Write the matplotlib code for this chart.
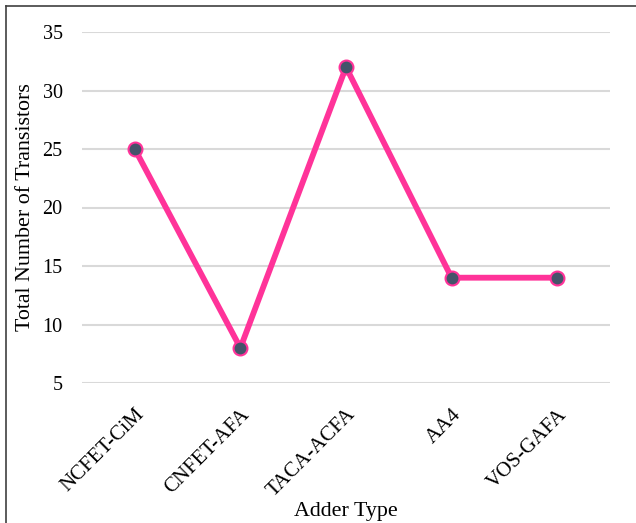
import matplotlib
matplotlib.use('Agg')
import matplotlib.pyplot as plt
from matplotlib.lines import Line2D

adders = ['NCFET-CiM', 'CNFET-AFA', 'TACA-ACFA', 'AA4', 'VOS-GAFA']
transistors = [25, 8, 32, 14, 14]
yticks = [5, 10, 15, 20, 25, 30, 35]

plt.rcParams['font.family'] = ['Liberation Serif', 'DejaVu Serif']

W, H = 636, 523
fig = plt.figure(figsize=(W / 100, H / 100), dpi=100)
ax = fig.add_axes([82 / W, 1 - 383 / H, 528 / W, 351 / H])

x = list(range(len(adders)))
ax.plot(x, transistors, color='#FF3399', lw=4.2, marker='o', ms=10,
        markerfacecolor='#44546A', markeredgecolor='#FF3399', mew=1.5,
        solid_capstyle='round', zorder=3)

ax.set_xlim(-0.5, len(adders) - 0.5)
ax.set_ylim(5, 35)
ax.set_yticks(yticks)
ax.set_xticks(x)
ax.set_xticklabels(adders, rotation=45, ha='right', rotation_mode='anchor',
                   fontsize=15)
ax.tick_params(length=0, colors='black')
ax.tick_params(axis='y', pad=14, labelsize=14.5)
ax.tick_params(axis='x', pad=16)
ax.yaxis.grid(True, color='#D9D9D9', lw=1.5)
ax.set_axisbelow(True)
for s in ax.spines.values():
    s.set_visible(False)

ax.set_ylabel('Total Number of Transistors', fontsize=15.8)
ax.yaxis.set_label_coords((35 - 82) / 528, 0.5)
ax.set_xlabel('Adder Type', fontsize=15.8)
ax.xaxis.set_label_coords(0.5, (383 - 502) / 351)

# chart border (only top and left visible in the crop)
fig.add_artist(Line2D([5.5 / W, 5.5 / W], [0, 1 - 5.5 / H], color='#404040', lw=1.2))
fig.add_artist(Line2D([5.5 / W, 1], [1 - 5.5 / H, 1 - 5.5 / H], color='#404040', lw=1.2))

fig.savefig('out.png', dpi=100)
